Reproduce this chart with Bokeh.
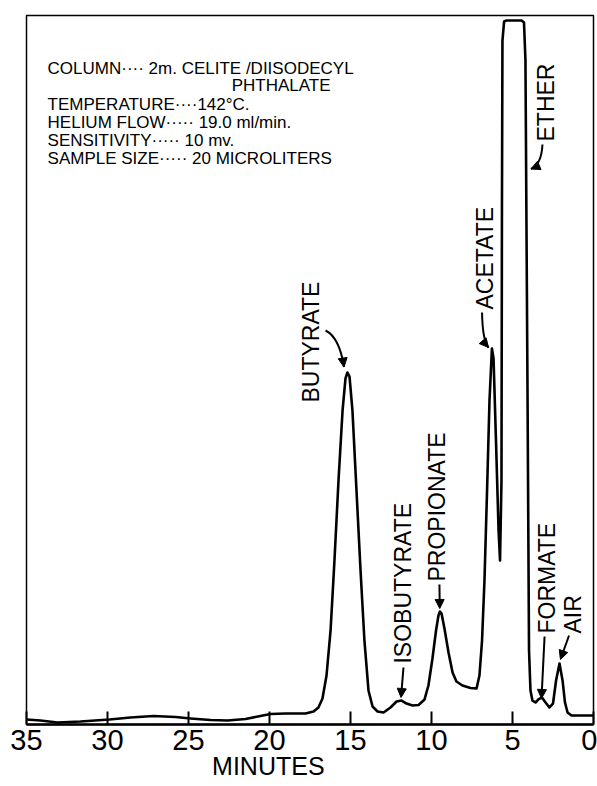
from math import pi
from bokeh.plotting import figure
from bokeh.models import Range1d, FixedTicker, Arrow, NormalHead
from bokeh.core.properties import value
from bokeh.embed import file_html
from bokeh.resources import INLINE

# ---- chromatogram trace (minutes, relative response 0-100) ----
minutes = [35.00, 34.14, 33.09, 31.67, 29.88, 28.58, 27.16, 25.80, 24.88, 23.64,
           22.59, 21.48, 20.56, 19.94, 19.01, 17.78, 17.28, 16.98, 16.73, 16.48,
           16.23, 15.99, 15.74, 15.49, 15.31, 15.19, 15.06, 14.88, 14.63, 14.38,
           14.14, 13.89, 13.64, 13.33, 12.96, 12.53, 12.16, 11.85, 11.54, 11.17,
           10.80, 10.43, 10.19, 9.94, 9.72, 9.57, 9.48, 9.38, 9.20, 8.95,
           8.70, 8.46, 8.09, 7.59, 7.22, 7.04, 6.88, 6.73, 6.57, 6.42,
           6.27, 6.17, 6.02, 5.86, 5.77, 5.68, 5.65, 5.62, 5.52, 5.37,
           4.44, 4.29, 4.20, 4.07, 3.98, 3.89, 3.77, 3.58, 3.40, 3.18,
           2.96, 2.72, 2.50, 2.31, 2.10, 1.91, 1.76, 1.60, 1.36, 0.00]
response = [0.71, 0.56, 0.28, 0.42, 0.71, 0.99, 1.20, 1.06, 0.85, 0.63,
            0.56, 0.78, 1.20, 1.48, 1.55, 1.55, 1.83, 2.40, 3.67, 6.91,
            13.26, 23.13, 34.41, 44.29, 48.80, 49.65, 49.08, 44.29, 33.00, 21.72,
            11.85, 4.80, 2.54, 1.83, 1.69, 2.40, 3.24, 3.38, 2.96, 2.68,
            2.75, 3.53, 5.50, 9.31, 13.26, 15.37, 15.94, 15.66, 13.54, 10.15,
            7.33, 6.06, 5.50, 5.15, 5.08, 6.91, 11.85, 20.31, 33.00, 45.70,
            53.03, 51.62, 40.06, 27.36, 23.13, 34.41, 73.90, 96.47, 99.15, 99.29,
            99.29, 99.01, 93.65, 45.70, 10.44, 4.80, 3.38, 3.10, 3.53, 3.81,
            3.10, 2.40, 2.96, 6.21, 8.60, 6.21, 3.10, 1.69, 1.27, 1.27]

tick_values = [35, 30, 25, 20, 15, 10, 5, 0]

# peak names (rotated labels) and where their labels sit
peak_names = ["BUTYRATE", "ISOBUTYRATE", "PROPIONATE", "ACETATE", "ETHER", "FORMATE", "AIR"]
label_x = [17.41, 11.73, 9.63, 6.67, 2.96, 2.90, 1.26]
label_y = [45.41, 8.60, 20.17, 58.53, 82.23, 12.83, 12.83]

info_lines = ["COLUMN\u00b7\u00b7\u00b7\u00b7 2m. CELITE /DIISODECYL",
              "TEMPERATURE\u00b7\u00b7\u00b7\u00b7142\u00b0C.",
              "HELIUM FLOW\u00b7\u00b7\u00b7\u00b7\u00b7 19.0 ml/min.",
              "SENSITIVITY\u00b7\u00b7\u00b7\u00b7\u00b7 10 mv.",
              "SAMPLE SIZE\u00b7\u00b7\u00b7\u00b7\u00b7 20 MICROLITERS"]
info_y = [92.50, 87.43, 84.89, 82.35, 79.81]
info_x = [33.70] * 5
info_extra = "PHTHALATE"

FONT = "Liberation Sans"

p = figure(width=597, height=786,
           x_range=Range1d(35, 0), y_range=Range1d(0, 100),
           output_backend="svg", toolbar_location=None,
           y_axis_location=None,
           min_border_left=26, min_border_right=4,
           min_border_top=15, min_border_bottom=62)
p.grid.visible = False
p.outline_line_color = "black"
p.outline_line_width = 1.5
p.background_fill_color = "white"
p.border_fill_color = "white"

ax = p.xaxis[0]
ax.ticker = FixedTicker(ticks=tick_values)
ax.major_tick_in = 13
ax.major_tick_out = 0
ax.minor_tick_in = 0
ax.minor_tick_out = 0
ax.axis_line_width = 2.5
ax.axis_line_color = "black"
ax.major_tick_line_width = 2
ax.major_tick_line_color = "black"
ax.major_label_text_font = FONT
ax.major_label_text_font_size = "29px"
ax.major_label_text_color = "black"
ax.major_label_standoff = 5
ax.axis_label = "MINUTES" + "\u00a0" * 12
ax.axis_label_text_font = FONT
ax.axis_label_text_font_size = "25px"
ax.axis_label_text_font_style = "normal"
ax.axis_label_text_color = "black"
ax.axis_label_standoff = -1

# trace
p.line(minutes, response, line_width=2.6, line_color="black", line_join="round")

# info block
p.text(x=info_x, y=info_y, text=info_lines, text_font=value(FONT),
       text_font_size="17px", text_color="black", text_align="left",
       text_baseline="alphabetic")
p.text(x=[16.23], y=[90.11], text=[info_extra], text_font=value(FONT),
       text_font_size="17px", text_color="black", text_align="right",
       text_baseline="alphabetic")

# peak labels, rotated
p.text(x=label_x, y=label_y, text=peak_names, angle=pi / 2,
       text_font=value(FONT), text_font_size="23px", text_color="black",
       text_align="left", text_baseline="middle")

# curved arrows (quadratic curve + head)
curves = [  # start x, start y, ctrl x, ctrl y, end x, end y
    (16.54, 55.57, 15.68, 54.58, 15.40, 50.42),
    (6.88, 58.11, 6.85, 54.16, 6.48, 53.17),
    (3.15, 81.80, 3.21, 79.00, 3.86, 78.35),
]
for (x0, y0, cx, cy, x1, y1) in curves:
    p.quadratic(x0=[x0], y0=[y0], x1=[x1], y1=[y1], cx=[cx], cy=[cy],
                line_color="black", line_width=2)
    hx = x1 - 0.25 * (x1 - cx)
    hy = y1 - 0.25 * (y1 - cy)
    p.add_layout(Arrow(end=NormalHead(size=9, line_color="black", fill_color="black", line_width=1),
                       x_start=hx, y_start=hy, x_end=x1, y_end=y1,
                       line_width=2, line_color="black"))

straight = [
    (11.73, 8.04, 11.88, 3.81),
    (9.51, 19.75, 9.49, 16.36),
    (3.02, 12.41, 3.21, 3.67),
    (1.51, 12.55, 2.04, 9.17),
]
for (x0, y0, x1, y1) in straight:
    p.add_layout(Arrow(end=NormalHead(size=9, line_color="black", fill_color="black", line_width=1),
                       x_start=x0, y_start=y0, x_end=x1, y_end=y1,
                       line_width=2, line_color="black"))

open("out.html", "w").write(file_html(p, INLINE))
